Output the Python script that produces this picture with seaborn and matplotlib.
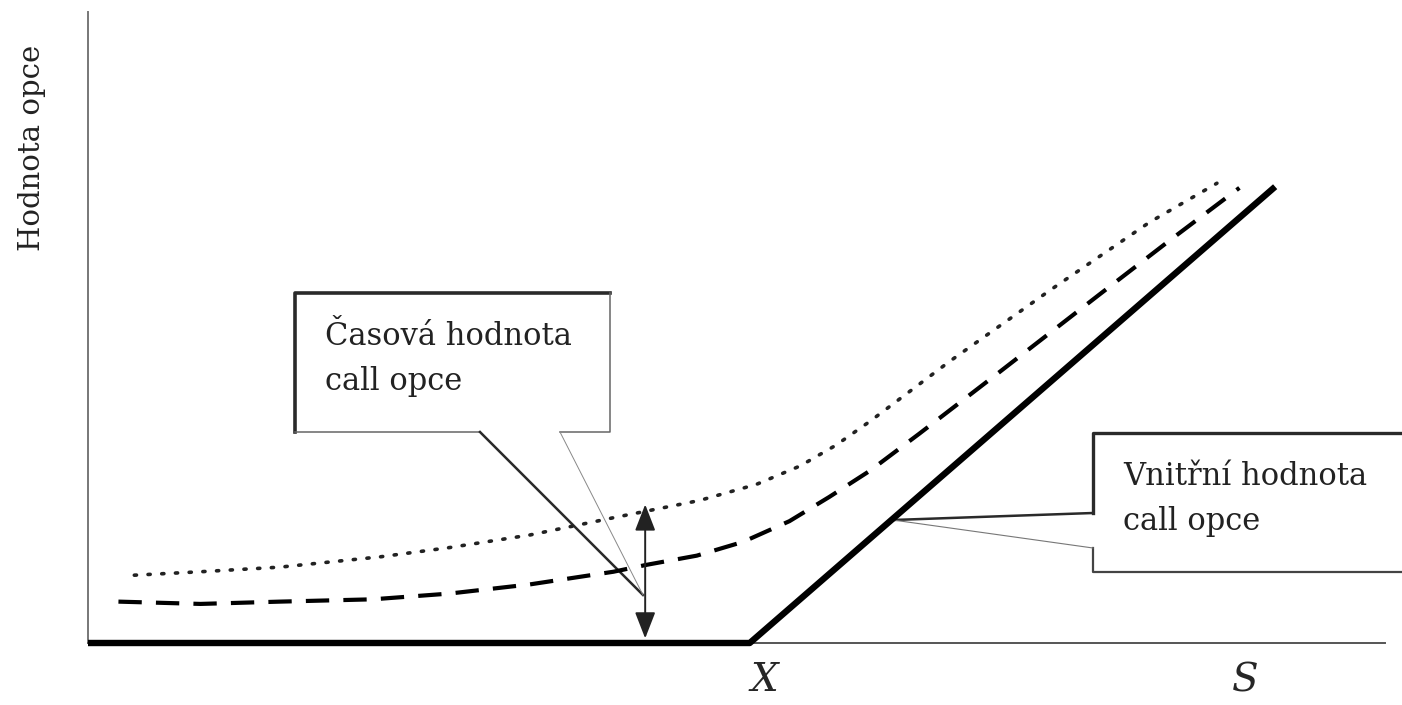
import numpy as np
import matplotlib.pyplot as plt
import seaborn as sns
from matplotlib.patches import Polygon

sns.set_style('white')
plt.rcParams['font.family'] = ['DejaVu Serif']

# underlying price S (strike X = 50) and option values
strike = 50
intrinsic_s = [0, 50, 89.7]
intrinsic_v = [0, 0, 39.7]

dashed_s = [2.3, 8.5, 14.5, 21.5, 27.3, 33.4, 39.7, 42.2, 46.0, 49.5, 53.0, 56.0, 59.1, 62.8, 68.9, 76.4, 81.7, 87.0]
dashed_v = [3.6, 3.4, 3.6, 3.8, 4.3, 5.1, 6.2, 6.8, 7.6, 8.8, 10.6, 12.7, 15.0, 18.2, 23.6, 30.3, 35.0, 39.6]

dotted_s = [3.5, 8.5, 14.5, 22.1, 27.3, 33.4, 39.7, 46.2, 50.5, 53.8, 56.5, 59.1, 65.1, 72.7, 80.2, 85.3]
dotted_v = [5.9, 6.2, 6.6, 7.5, 8.3, 9.4, 10.9, 12.4, 13.8, 15.4, 17.2, 19.3, 24.5, 30.7, 36.6, 40.0]

tick_pos = [51.1, 87.4]
tick_labels = ['X', 'S']
arrow_s = 42.1

W, H = 1402, 705
fig = plt.figure(figsize=(W / 100, H / 100), dpi=100)
ax = fig.add_axes([88 / W, 62 / H, 1297 / W, 631 / H])


def px(x, y):
    return (x / W, 1 - y / H)


sns.lineplot(x=dotted_s, y=dotted_v, ax=ax, color='#222222', lw=2.6,
             linestyle=(0, (0.6, 3.2)), dash_capstyle='round', zorder=4)
sns.lineplot(x=dashed_s, y=dashed_v, ax=ax, color='black', lw=3.0,
             linestyle=(0, (5.6, 3.4)), zorder=4)
sns.lineplot(x=intrinsic_s, y=intrinsic_v, ax=ax, color='black', lw=4.6,
             solid_capstyle='butt', clip_on=False, zorder=5)

ax.set_xlim(0, 98)
ax.set_ylim(0, 54.9)
ax.set_xticks(tick_pos, tick_labels, fontsize=28, fontstyle='italic')
ax.set_yticks([])
ax.tick_params(axis='x', length=0, pad=14)
ax.set_xlabel('')
ax.set_ylabel('')
for side in ['top', 'right']:
    ax.spines[side].set_visible(False)
ax.spines['bottom'].set_color('#555555')
ax.spines['bottom'].set_linewidth(1.4)
ax.spines['left'].set_color('#777777')
ax.spines['left'].set_linewidth(1.4)

fig.text(*px(32, 148), 'Hodnota opce', rotation=90, fontsize=21,
         ha='center', va='center', color='#222222')

# time value arrow between intrinsic value and option value
top = np.interp(arrow_s, dotted_s, dotted_v) + 0.6
ax.annotate('', xy=(arrow_s, top), xytext=(arrow_s, 0.4),
            arrowprops=dict(arrowstyle='<|-|>,head_length=0.9,head_width=0.35',
                            color='#222222', lw=1.4, shrinkA=0, shrinkB=0,
                            mutation_scale=18), zorder=6)


def seg(points, lw, color):
    xs, ys = zip(*[px(*p) for p in points])
    ax.plot(xs, ys, transform=fig.transFigure, clip_on=False, color=color,
            lw=lw, solid_capstyle='projecting', zorder=3)


# callout: time value
box1 = [(295, 293), (610, 293), (610, 432), (560, 432), (643, 595), (480, 432), (295, 432)]
ax.add_patch(Polygon([px(*p) for p in box1], closed=True, transform=fig.transFigure,
                     facecolor='white', edgecolor='none', clip_on=False, zorder=2))
seg([(295, 432), (295, 293), (610, 293)], 2.6, '#2a2a2a')
seg([(610, 293), (610, 432), (560, 432)], 1.1, '#666666')
seg([(480, 432), (295, 432)], 1.1, '#666666')
seg([(480, 432), (643, 595)], 1.8, '#2a2a2a')
seg([(560, 432), (643, 595)], 0.7, '#888888')
fig.text(*px(325, 345), 'Časová hodnota', fontsize=22, va='baseline', color='#222222')
fig.text(*px(325, 390), 'call opce', fontsize=22, va='baseline', color='#222222')

# callout: intrinsic value
box2 = [(1093, 433), (1420, 433), (1420, 572), (1093, 572), (1093, 548), (893, 520), (1093, 513)]
ax.add_patch(Polygon([px(*p) for p in box2], closed=True, transform=fig.transFigure,
                     facecolor='white', edgecolor='none', clip_on=False, zorder=2))
seg([(1093, 513), (1093, 433), (1420, 433)], 2.4, '#2a2a2a')
seg([(1093, 548), (1093, 572), (1420, 572)], 1.6, '#444444')
seg([(1093, 513), (893, 520)], 1.8, '#2a2a2a')
seg([(893, 520), (1093, 548)], 0.8, '#777777')
fig.text(*px(1123, 485), 'Vnitřní hodnota', fontsize=22, va='baseline', color='#222222')
fig.text(*px(1123, 530), 'call opce', fontsize=22, va='baseline', color='#222222')

fig.savefig('out.png', dpi=100, facecolor='white')
